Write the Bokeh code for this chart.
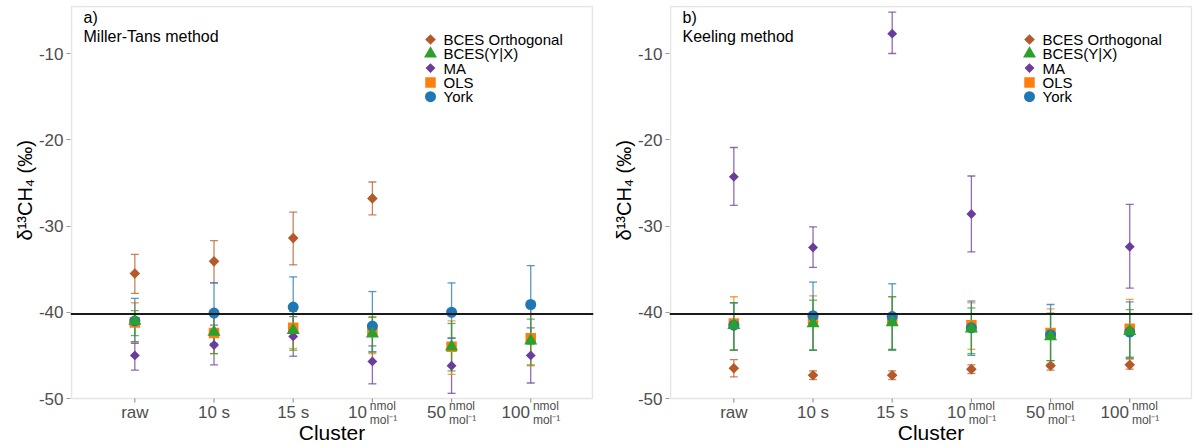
import math

from bokeh.core.properties import value
from bokeh.embed import file_html
from bokeh.layouts import row
from bokeh.models import (BoxAnnotation, ColumnDataSource, FixedTicker, Label, Span,
                          TeeHead, Title, Whisker)
from bokeh.plotting import figure
from bokeh.resources import INLINE

FONT = "Liberation Sans"
nan = float("nan")

# Clusters (x axis)
clusters = ["raw", "10 s", "15 s", "10", "50", "100"]
cluster_units = ["", "", "", "nmol", "nmol", "nmol"]

methods = ["BCES Orthogonal", "BCES(Y|X)", "MA", "OLS", "York"]

# a) Miller-Tans method: value, lower, upper (per mil)
mt_bces_orth = [-35.5, -34.1, -31.4, -26.8, nan, nan]
mt_bces_orth_lo = [-37.8, -36.6, -34.5, -28.7, nan, nan]
mt_bces_orth_hi = [-33.3, -31.7, -28.4, -24.9, nan, nan]
mt_bces_yx = [-41.0, -42.3, -42.1, -42.5, -44.0, -43.3]
mt_bces_yx_lo = [-42.7, -44.8, -44.4, -44.6, -46.8, -46.1]
mt_bces_yx_hi = [-39.8, -40.0, -39.9, -40.6, -41.3, -40.8]
mt_ma = [-45.0, -43.8, -42.8, -45.7, -46.2, -45.0]
mt_ma_lo = [-46.7, -46.1, -45.1, -48.3, -49.4, -48.2]
mt_ma_hi = [-43.6, -41.5, -40.5, -43.9, -43.0, -41.8]
mt_ols = [-41.2, -42.4, -41.8, -42.1, -44.0, -43.0]
mt_ols_lo = [-43.5, -44.8, -44.2, -44.8, -47.2, -46.2]
mt_ols_hi = [-38.9, -40.1, -39.6, -40.5, -41.0, -39.5]
mt_york = [-41.0, -40.1, -39.4, -41.6, -40.0, -39.1]
mt_york_lo = [-43.4, -43.6, -42.8, -44.6, -43.0, -43.7]
mt_york_hi = [-38.4, -36.6, -35.9, -37.6, -36.6, -34.6]

# b) Keeling method
kl_bces_orth = [-46.5, -47.3, -47.3, -46.6, -46.2, -46.1]
kl_bces_orth_lo = [-47.5, -47.8, -47.8, -47.1, -46.7, -46.6]
kl_bces_orth_hi = [-45.5, -46.8, -46.8, -46.1, -45.6, -45.4]
kl_bces_yx = [-41.5, -41.3, -41.2, -41.9, -42.8, -42.2]
kl_bces_yx_lo = [-44.4, -44.4, -44.4, -44.8, -45.6, -45.2]
kl_bces_yx_hi = [-38.9, -38.6, -38.2, -39.5, -40.1, -39.7]
kl_ma = [-24.3, -32.5, -7.7, -28.6, nan, -32.4]
kl_ma_lo = [-27.6, -34.8, -10.0, -33.0, nan, -37.2]
kl_ma_hi = [-20.9, -30.1, -5.2, -24.2, nan, -27.5]
kl_ols = [-41.3, -40.8, -40.9, -41.5, -42.4, -41.9]
kl_ols_lo = [-44.4, -44.4, -44.4, -44.3, -46.2, -45.4]
kl_ols_hi = [-38.2, -38.1, -38.2, -38.9, -39.6, -38.5]
kl_york = [-41.5, -40.4, -40.5, -41.8, -42.6, -42.3]
kl_york_lo = [-44.4, -44.4, -44.3, -45.0, -46.0, -45.3]
kl_york_hi = [-38.9, -36.5, -36.7, -38.7, -39.1, -38.8]

reference_line = -40.2
y_ticks = [-50, -40, -30, -20, -10]

STYLE = {
    "BCES Orthogonal": dict(color="#b5592a", marker="square", size=7.5, angle=math.pi / 4),
    "BCES(Y|X)": dict(color="#2ca02c", marker="triangle", size=13, angle=0),
    "MA": dict(color="#6a3d9a", marker="square", size=7, angle=math.pi / 4),
    "OLS": dict(color="#ff7f0e", marker="square", size=10.5, angle=0),
    "York": dict(color="#1f77b4", marker="circle", size=11, angle=0),
}
DRAW_ORDER = ["BCES Orthogonal", "MA", "OLS", "York", "BCES(Y|X)"]

# panel box in data units and its size in pixels
X_START, X_END = 0.2, 6.78
Y_START, Y_END = -50, -4.55
BOX_W, BOX_H = 521, 392
PX_X = BOX_W / (X_END - X_START)
PX_Y = BOX_H / (Y_END - Y_START)
# the plotting frame runs 1px past the box and down to the page bottom,
# so the x labels below the box can be drawn inside it
FRAME_W = BOX_W + 2
FRAME_H = 446 - 5
Y_BOTTOM = Y_END + 1 / PX_Y - FRAME_H / PX_Y


def below(px):
    return Y_START - px / PX_Y


def make_panel(tag, title, series, border_left, border_right):
    p = figure(width=border_left + FRAME_W + border_right, height=446,
               x_range=(X_START - 1 / PX_X, X_END + 1 / PX_X),
               y_range=(Y_BOTTOM, Y_END + 1 / PX_Y),
               x_axis_location=None, output_backend="svg", toolbar_location=None,
               min_border_left=border_left, min_border_right=border_right,
               min_border_top=5, min_border_bottom=0)
    p.grid.visible = False
    p.background_fill_color = "white"
    p.border_fill_color = "white"
    p.outline_line_color = None

    p.add_layout(BoxAnnotation(left=X_START, right=X_END, bottom=Y_START, top=Y_END,
                               fill_alpha=0, line_color="#a8a8a8", line_width=1.5,
                               level="underlay"))

    p.yaxis.axis_line_color = None
    p.yaxis.major_tick_line_color = "#999999"
    p.yaxis.major_tick_line_width = 1.2
    p.yaxis.major_tick_in = 0
    p.yaxis.major_tick_out = 4
    p.yaxis.minor_tick_line_color = None
    p.yaxis.ticker = FixedTicker(ticks=y_ticks)
    p.yaxis.major_label_overrides = {t: f"{t}" for t in y_ticks}
    p.yaxis.major_label_text_font = FONT
    p.yaxis.major_label_text_font_size = "17px"
    p.yaxis.major_label_text_color = "#4d4d4d"
    p.yaxis.major_label_standoff = 3

    p.add_layout(Title(text="δ¹³CH₄ (‰)", align="left", offset=206, standoff=0,
                       text_font=FONT, text_font_size="20px", text_font_style="normal",
                       text_color="black"), "left")

    p.add_layout(Span(location=reference_line, dimension="width",
                      line_color="#1a1a1a", line_width=2))

    for m in DRAW_ORDER:
        vals, lo, hi = series[m]
        st = STYLE[m]
        keep = [i for i, v in enumerate(vals) if not math.isnan(v)]
        src = ColumnDataSource(data=dict(
            x=[i + 1 for i in keep],
            y=[vals[i] for i in keep],
            lo=[lo[i] for i in keep],
            hi=[hi[i] for i in keep],
        ))
        head = dict(size=8, line_color=st["color"], line_alpha=0.75, line_width=1.3)
        p.add_layout(Whisker(source=src, base="x", lower="lo", upper="hi",
                             dimension="height", level="underlay",
                             line_color=st["color"], line_alpha=0.75, line_width=1.3,
                             lower_head=TeeHead(**head), upper_head=TeeHead(**head)))
        p.scatter("x", "y", source=src, marker=st["marker"], size=st["size"],
                  angle=st["angle"], fill_color=st["color"], line_color=None)

    # legend, drawn by hand so markers keep their plotted size
    leg_x = X_START + 359 / PX_X
    leg_y = [Y_END - (33 + 14.3 * k) / PX_Y for k in range(len(methods))]
    for k, m in enumerate(methods):
        st = STYLE[m]
        p.scatter([leg_x], [leg_y[k]], marker=st["marker"], size=st["size"],
                  angle=st["angle"], fill_color=st["color"], line_color=None)
    p.text(x=[leg_x] * len(methods), y=leg_y, text=methods, x_offset=13,
           text_font=value(FONT), text_font_size=value("15px"), text_color="black",
           text_baseline="middle", text_align="left")

    # panel tag and method name
    for txt, dy in ((tag, -10.7), (title, -29.7)):
        p.add_layout(Label(x=X_START, y=Y_END, x_offset=12, y_offset=dy, text=txt,
                           text_font=FONT, text_font_size="16px", text_color="black",
                           text_baseline="middle"))

    # x axis: ticks, labels (stacked nmol / mol-1 units) and title below the box
    xs = list(range(1, len(clusters) + 1))
    p.segment(x0=xs, y0=[Y_START] * len(xs), x1=xs, y1=[below(4)] * len(xs),
              line_color="#999999", line_width=1.2)

    plain = [i for i, u in enumerate(cluster_units) if not u]
    p.text(x=[xs[i] for i in plain], y=[below(13.7)] * len(plain),
           text=[clusters[i] for i in plain],
           text_font=value(FONT), text_font_size=value("17px"), text_color="#4d4d4d",
           text_align="center", text_baseline="middle")

    conc = [i for i, u in enumerate(cluster_units) if u]
    w_num = [0.556 * 17 * len(clusters[i]) for i in conc]
    left = [-(w + 3 + 27) / 2 for w in w_num]
    p.text(x=[xs[i] for i in conc], y=[below(13.7)] * len(conc),
           text=[clusters[i] for i in conc],
           x_offset=[a + w for a, w in zip(left, w_num)],
           text_font=value(FONT), text_font_size=value("17px"), text_color="#4d4d4d",
           text_align="right", text_baseline="middle")
    p.text(x=[xs[i] for i in conc], y=[below(7)] * len(conc),
           text=[cluster_units[i] for i in conc],
           x_offset=[a + w + 3 for a, w in zip(left, w_num)],
           text_font=value(FONT), text_font_size=value("12px"), text_color="#4d4d4d",
           text_align="left", text_baseline="middle")
    p.text(x=[xs[i] for i in conc], y=[below(21)] * len(conc),
           text=["mol⁻¹"] * len(conc),
           x_offset=[a + w + 3 for a, w in zip(left, w_num)],
           text_font=value(FONT), text_font_size=value("12px"), text_color="#4d4d4d",
           text_align="left", text_baseline="middle")

    p.add_layout(Label(x=(X_START + X_END) / 2, y=below(33.7), text="Cluster",
                       text_font=FONT, text_font_size="21px", text_color="black",
                       text_align="center", text_baseline="middle"))
    return p


mt_series = {
    "BCES Orthogonal": (mt_bces_orth, mt_bces_orth_lo, mt_bces_orth_hi),
    "BCES(Y|X)": (mt_bces_yx, mt_bces_yx_lo, mt_bces_yx_hi),
    "MA": (mt_ma, mt_ma_lo, mt_ma_hi),
    "OLS": (mt_ols, mt_ols_lo, mt_ols_hi),
    "York": (mt_york, mt_york_lo, mt_york_hi),
}
kl_series = {
    "BCES Orthogonal": (kl_bces_orth, kl_bces_orth_lo, kl_bces_orth_hi),
    "BCES(Y|X)": (kl_bces_yx, kl_bces_yx_lo, kl_bces_yx_hi),
    "MA": (kl_ma, kl_ma_lo, kl_ma_hi),
    "OLS": (kl_ols, kl_ols_lo, kl_ols_hi),
    "York": (kl_york, kl_york_lo, kl_york_hi),
}

p1 = make_panel("a)", "Miller-Tans method", mt_series, 70, 14)
p2 = make_panel("b)", "Keeling method", kl_series, 62, 7)

layout = row(p1, p2)
open("out.html", "w").write(file_html(layout, INLINE))
